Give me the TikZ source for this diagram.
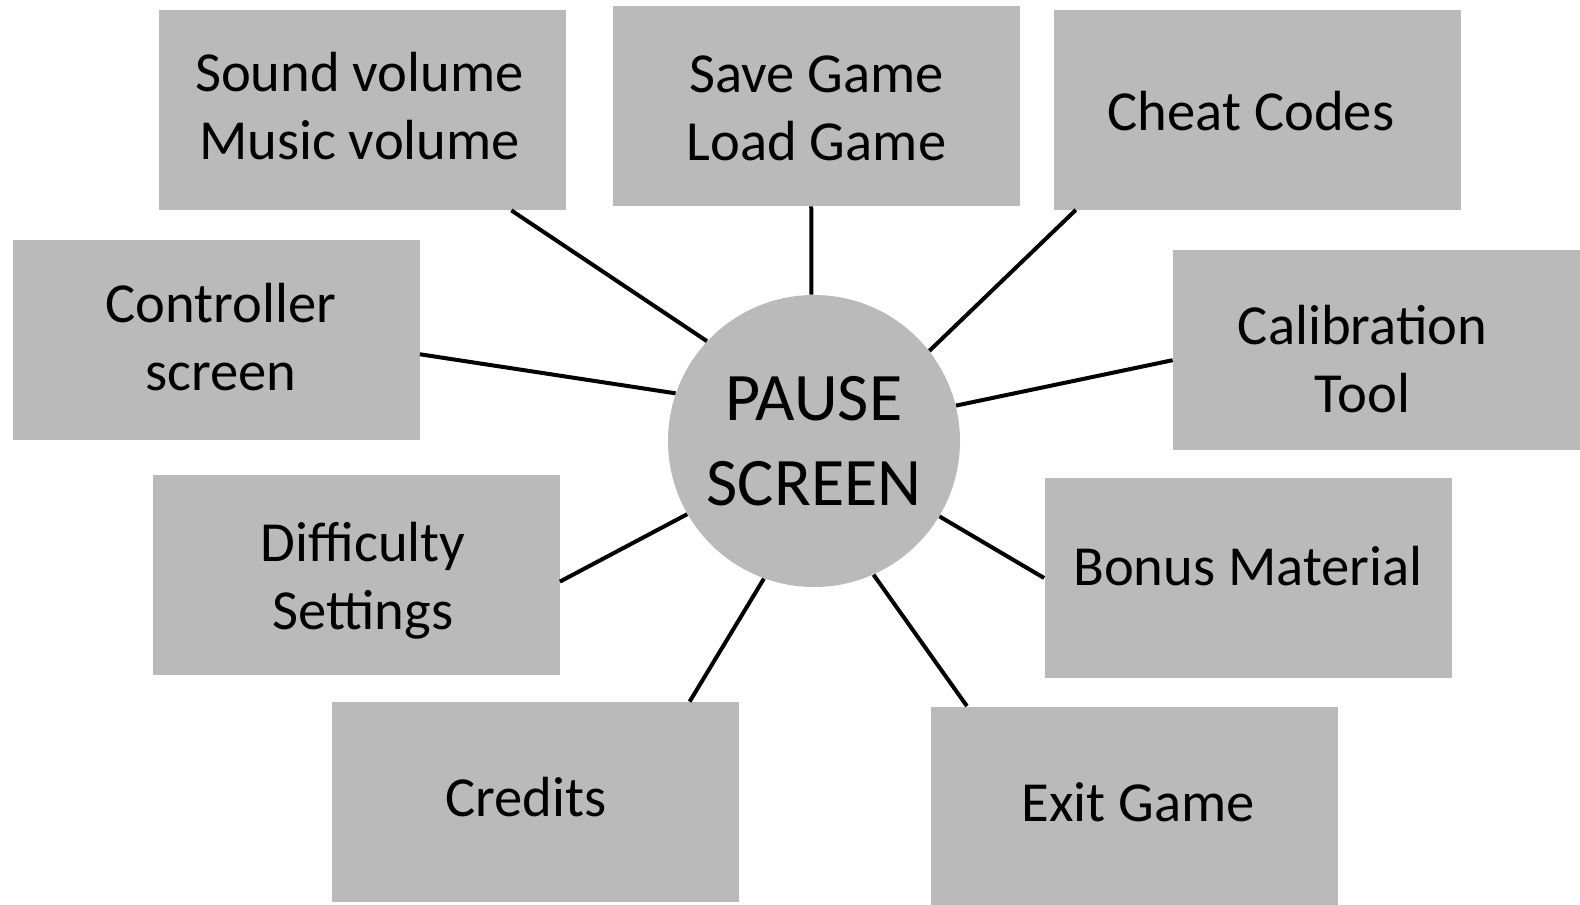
\documentclass[tikz,border=0pt]{standalone}
\usepackage{fontspec}
\setmainfont{Carlito}
\definecolor{boxgray}{RGB}{186,186,186}

\begin{document}
\begin{tikzpicture}[x=0.5pt,y=-0.5pt,
  item/.style={rectangle,fill=boxgray,inner sep=0pt,minimum width=203.5pt,minimum height=100pt},
  itemtext/.style={inner sep=0pt,align=center,font=\fontsize{28.3}{34}\selectfont},
  hub/.style={circle,fill=boxgray,inner sep=0pt,minimum size=146pt,
    align=center,font=\fontsize{34}{42.5}\selectfont},
  spoke/.style={line width=2pt}]
  \useasboundingbox (0,0) rectangle (1580,905);
  \node[hub] (pause) at (814,441) {PAUSE\\SCREEN};
  \node[item,label={[itemtext,xshift=-1.5pt,yshift=1.75pt]center:{Sound volume\\Music volume}}] (sound) at (362.5,110) {};
  \node[item,label={[itemtext,yshift=-1.25pt]center:{Save Game\\Load Game}}] (save) at (816.5,106) {};
  \node[item,label={[itemtext,xshift=-3pt,yshift=-1pt]center:Cheat Codes}] (cheat) at (1257,109.5) {};
  \node[item,label={[itemtext,xshift=2.5pt,yshift=1.25pt]center:{Controller\\screen}}] (controller) at (216,340) {};
  \node[item,label={[itemtext,xshift=-7pt,yshift=-4.75pt]center:{Calibration\\Tool}}] (calibration) at (1376.5,349.5) {};
  \node[item,label={[itemtext,xshift=3.5pt,yshift=-3pt]center:{Difficulty\\Settings}}] (difficulty) at (356,574.5) {};
  \node[item,label={[itemtext,yshift=6pt]center:Bonus Material}] (bonus) at (1248,578) {};
  \node[item,label={[itemtext,xshift=-4.5pt,yshift=2.5pt]center:Credits}] (credits) at (535,802) {};
  \node[item,label={[itemtext,xshift=2pt,yshift=2pt]center:Exit Game}] (exit) at (1134,806.5) {};
  \draw[spoke] (sound.-34.9) -- (pause.137.5);
  \draw[spoke] (save.-93.7) -- (pause.91.6);
  \draw[spoke] (cheat.-151.2) -- (pause.38.6);
  \draw[spoke] (controller.-4.8) -- (pause.161.7);
  \draw[spoke] (calibration.183) -- (pause.14.9);
  \draw[spoke] (difficulty.-2.4) -- (pause.-150);
  \draw[spoke] (bonus.180) -- (pause.-31.8);
  \draw[spoke] (credits.33.9) -- (pause.-110);
  \draw[spoke] (exit.149.8) -- (pause.-66.4);
\end{tikzpicture}
\end{document}
